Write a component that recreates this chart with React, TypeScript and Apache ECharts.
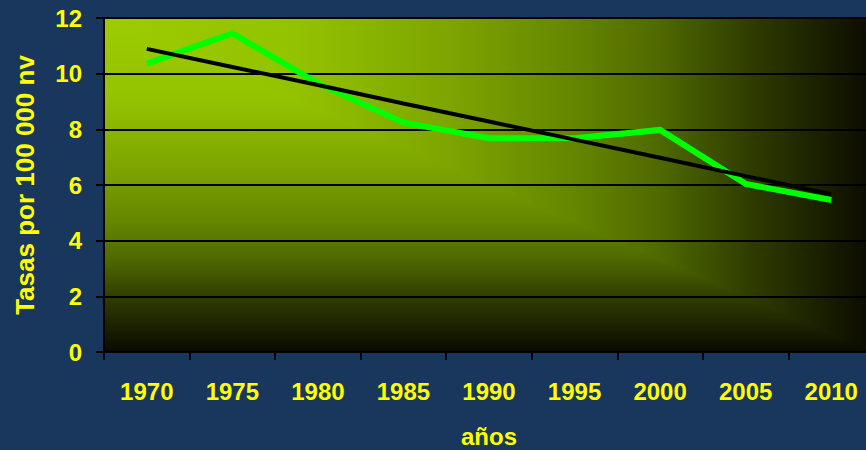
import React, { useEffect, useRef } from "react";
import * as echarts from "echarts";

const years = ["1970", "1975", "1980", "1985", "1990", "1995", "2000", "2005", "2010"];
const tasas = [10.36, 11.45, 9.65, 8.24, 7.68, 7.68, 7.98, 6.04, 5.46];
const tendencia = [10.89, 10.24, 9.59, 8.93, 8.28, 7.63, 6.98, 6.32, 5.67];

const FONT = "'Liberation Sans', Arial, sans-serif";
const YELLOW = "#ffff00";

const W = 866;
const H = 450;
const GRID = { left: 104, top: 18, right: -8, bottom: 98 };

const fillStops = [
  { offset: 0, color: "#9ccc00" },
  { offset: 0.25, color: "#93c200" },
  { offset: 0.45, color: "#7da400" },
  { offset: 0.6, color: "#668800" },
  { offset: 0.72, color: "#4f6a00" },
  { offset: 0.84, color: "#2f3c00" },
  { offset: 0.93, color: "#1a2000" },
  { offset: 1, color: "#0a0a00" },
];

export default function App() {
  const ref = useRef<HTMLDivElement>(null);
  useEffect(() => {
    if (!ref.current) return;
    const chart = echarts.init(ref.current, null, { renderer: "svg" });
    const x0 = GRID.left;
    const y0 = GRID.top;
    const x1 = W - GRID.right;
    const y1 = H - GRID.bottom;
    chart.setOption({
      animation: false,
      backgroundColor: "#19365d",
      graphic: [
        {
          type: "rect",
          z: -2,
          silent: true,
          shape: { x: x0, y: y0, width: x1 - x0, height: y1 - y0 },
          style: { fill: new echarts.graphic.LinearGradient(0, 0, 1, 0, fillStops), stroke: null },
        },
        {
          type: "polygon",
          z: -1,
          silent: true,
          shape: { points: [[x0, y0], [x0, y1], [x1, y1]] },
          style: { fill: new echarts.graphic.LinearGradient(0, 0, 0, 1, fillStops), stroke: null },
        },
      ],
      grid: {
        ...GRID,
        outerBoundsMode: "none",
        containLabel: false,
        show: true,
        borderColor: "#808080",
        borderWidth: 2,
        backgroundColor: "transparent",
      },
      xAxis: {
        type: "category",
        data: years,
        boundaryGap: true,
        name: "años",
        nameLocation: "middle",
        nameGap: 72,
        nameTextStyle: { color: YELLOW, fontSize: 24, fontWeight: "bold", fontFamily: FONT },
        axisLine: { show: true, lineStyle: { color: "#000000", width: 2 } },
        axisTick: { show: true, length: 8, alignWithLabel: false, lineStyle: { color: "#000000", width: 2 } },
        axisLabel: { color: YELLOW, fontSize: 24, fontWeight: "bold", fontFamily: FONT, margin: 27, interval: 0 },
        splitLine: { show: false },
      },
      yAxis: {
        type: "value",
        min: 0,
        max: 12,
        interval: 2,
        name: "Tasas por 100 000 nv",
        nameLocation: "middle",
        nameGap: 66,
        nameRotate: 90,
        nameTextStyle: { color: YELLOW, fontSize: 26, fontWeight: "bold", fontFamily: FONT },
        axisLine: { show: true, lineStyle: { color: "#000000", width: 2 } },
        axisTick: { show: true, length: 8, lineStyle: { color: "#000000", width: 2 } },
        axisLabel: { color: YELLOW, fontSize: 24, fontWeight: "bold", fontFamily: FONT, margin: 22 },
        splitLine: { show: true, lineStyle: { color: "#000000", width: 2 } },
      },
      series: [
        {
          type: "line",
          data: tasas,
          symbol: "none",
          z: 2,
          lineStyle: { color: "#00ff00", width: 6, join: "miter", cap: "butt" },
        },
        {
          type: "line",
          data: tendencia,
          symbol: "none",
          z: 3,
          lineStyle: { color: "#000000", width: 4, cap: "butt" },
        },
      ],
    });
    return () => chart.dispose();
  }, []);
  return (
    <div
      ref={ref}
      style={{ position: "fixed", left: 0, top: 0, width: W, height: H }}
    />
  );
}
